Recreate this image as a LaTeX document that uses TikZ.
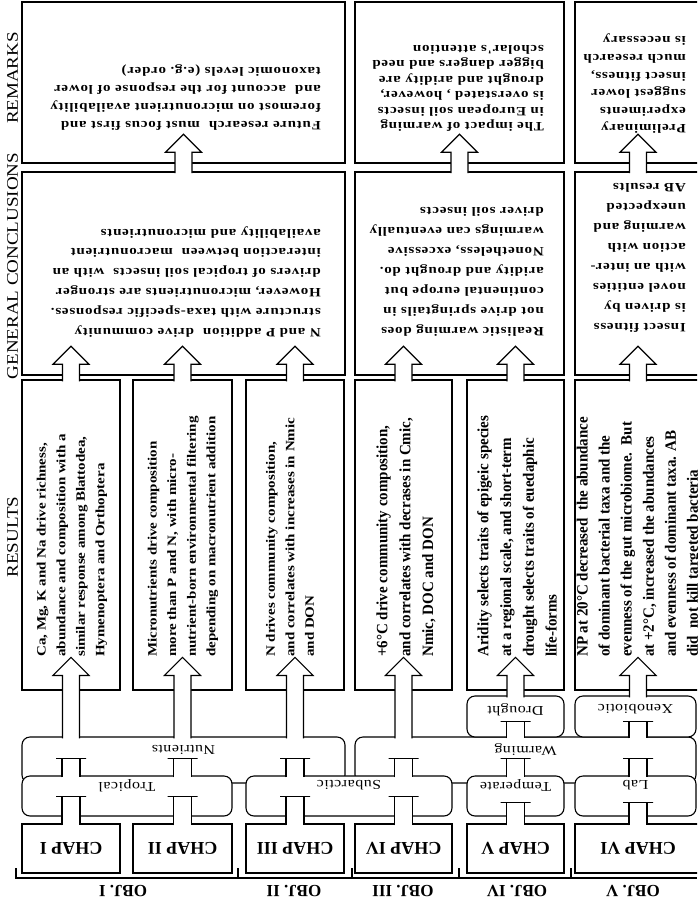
\documentclass[tikz,border=0pt]{standalone}
\usepackage{fontspec}
\setmainfont{Liberation Serif}
\newfontfamily\spacedfont[LetterSpace=5]{Liberation Serif}
\newfontfamily\boxfont[LetterSpace=3]{Liberation Serif}

\tikzset{
  dbox/.style={draw, line width=1.5pt, fill=white, inner sep=0pt},
  rbox/.style={draw, rounded corners=8pt, line width=1.1pt, fill=white, inner sep=0pt},
  pipe/.style={draw, fill=white, line width=1.1pt,
    to path={([xshift=-9pt,yshift=-2pt]\tikztostart) -- ([xshift=-9pt]\tikztotarget)
      -- ([xshift=-15pt]\tikztotarget) -- ([xshift=15pt]\tikztotarget)
      -- ([xshift=9pt]\tikztotarget) -- ([xshift=9pt,yshift=-2pt]\tikztostart)}},
  blockarrow/.style={draw, fill=white, line width=1.1pt,
    to path={([xshift=-8.5pt,yshift=-2pt]\tikztostart) -- ([xshift=-8.5pt,yshift=-18pt]\tikztotarget)
      -- ([xshift=-18pt,yshift=-18pt]\tikztotarget) -- (\tikztotarget)
      -- ([xshift=18pt,yshift=-18pt]\tikztotarget) -- ([xshift=8.5pt,yshift=-18pt]\tikztotarget)
      -- ([xshift=8.5pt,yshift=-2pt]\tikztostart)}},
  restext/.style={rotate=90, yscale=#1, anchor=west, inner sep=0pt, align=left,
    font=\bfseries\fontsize{15}{23}\selectfont},
  restext/.default=.85,
  udtext/.style={rotate=180, yscale=.85, anchor=west, inner sep=0pt, align=left,
    font=\spacedfont\bfseries\fontsize{15}{#1}\selectfont},
  udtext/.default=23.5,
  sidelbl/.style={rotate=90, yscale=.85, inner sep=0pt, font=\fontsize{19}{23}\selectfont},
  boxlbl/.style={rotate=180, yscale=.85, inner sep=0pt, font=\boxfont\fontsize{16}{18}\selectfont},
  chaplbl/.style={rotate=180, inner sep=0pt, font=\bfseries\fontsize{18}{20}\selectfont},
  objlbl/.style={rotate=180, inner sep=0pt, font=\bfseries\fontsize{17}{20}\selectfont}
}

\begin{document}
\begin{tikzpicture}[x=1pt, y=-1pt]
\useasboundingbox (0,0) rectangle (697,904);
\clip (0,0) rectangle (697,904);

% nutrients and warming sit behind the sites
\node[rbox, minimum width=323pt, minimum height=46pt] (nutr) at (183.5,760) {};
\node[rbox, minimum width=341pt, minimum height=46pt] (warm) at (525.5,760) {};

\node[rbox, minimum width=210pt, minimum height=40pt] (trop) at (127,796) {};
\node[rbox, minimum width=206pt, minimum height=40pt] (suba) at (349,796) {};
\node[rbox, minimum width=97pt, minimum height=40pt] (temp) at (515.5,796) {};
\node[rbox, minimum width=121pt, minimum height=40pt] (lab) at (635.5,796) {};
\node[rbox, minimum width=97pt, minimum height=41pt] (drou) at (515.5,716.5) {};
\node[rbox, minimum width=121pt, minimum height=41pt] (xeno) at (635.5,716.5) {};

% chapters
\node[dbox, minimum width=98pt, minimum height=49pt] (chap1) at (71,848.5) {};
\node[dbox, minimum width=99pt, minimum height=49pt] (chap2) at (182.5,848.5) {};
\node[dbox, minimum width=98pt, minimum height=49pt] (chap3) at (295,848.5) {};
\node[dbox, minimum width=97pt, minimum height=49pt] (chap4) at (403.5,848.5) {};
\node[dbox, minimum width=97pt, minimum height=49pt] (chap5) at (515.5,848.5) {};
\node[dbox, minimum width=126pt, minimum height=49pt] (chap6) at (638,848.5) {};

% results
\node[dbox, minimum width=98pt, minimum height=310pt] (res1) at (71,535) {};
\node[dbox, minimum width=99pt, minimum height=310pt] (res2) at (182.5,535) {};
\node[dbox, minimum width=98pt, minimum height=310pt] (res3) at (295,535) {};
\node[dbox, minimum width=97pt, minimum height=310pt] (res4) at (403.5,535) {};
\node[dbox, minimum width=97pt, minimum height=310pt] (res5) at (515.5,535) {};
\node[dbox, minimum width=126pt, minimum height=310pt] (res6) at (638,535) {};

% general conclusions and remarks
\node[dbox, minimum width=323pt, minimum height=203pt] (gc1) at (183.5,273.5) {};
\node[dbox, minimum width=209pt, minimum height=203pt] (gc2) at (459.5,273.5) {};
\node[dbox, minimum width=126pt, minimum height=203pt] (gc3) at (638,273.5) {};
\node[dbox, minimum width=323pt, minimum height=161pt] (rem1) at (183.5,82.5) {};
\node[dbox, minimum width=209pt, minimum height=161pt] (rem2) at (459.5,82.5) {};
\node[dbox, minimum width=126pt, minimum height=161pt] (rem3) at (638,82.5) {};

% pipes between levels
\foreach \c in {chap1,chap2,chap3,chap4}
  \draw[pipe] (\c.north) to ++(0,-27);
\draw[pipe] (chap5.north) to ++(0,-21);
\draw[pipe] (chap6.north) to ++(0,-21);
\draw[pipe] (trop.north -| chap1.north) to ++(0,-17);
\draw[pipe] (trop.north -| chap2.north) to ++(0,-17);
\draw[pipe] (suba.north -| chap3.north) to ++(0,-17);
\draw[pipe] (suba.north -| chap4.north) to ++(0,-17);
\draw[pipe] (temp.north) to ++(0,-17);
\draw[pipe] (lab.north -| chap6.north) to ++(0,-17);
\draw[pipe] (warm.north -| drou.south) to ++(0,-15);
\draw[pipe] (warm.north -| chap6.north) to ++(0,-15);

% big arrows
\foreach \i in {1,2,3}
  \draw[blockarrow] (nutr.north -| res\i.south) to ++(0,-79);
\draw[blockarrow] (warm.north -| res4.south) to ++(0,-79);
\draw[blockarrow] (drou.north) to ++(0,-38);
\draw[blockarrow] (xeno.north -| res6.south) to ++(0,-38);
\foreach \i in {1,...,6}
  \draw[blockarrow] (res\i.north) to ++(0,-33);
\foreach \i in {1,2,3}
  \draw[blockarrow] (gc\i.north) to ++(0,-37);

% row titles
\node[sidelbl] (lblrem) at (12.5,78) {REMARKS};
\node[sidelbl] (lblgc) at (12.5,266) {GENERAL CONCLUSIONS};
\node[sidelbl] (lblres) at (12.5,537) {RESULTS};

% labels of the rounded boxes
\node[boxlbl] (tnutr) at ([yshift=-13pt]nutr.north) {Nutrients};
\node[boxlbl] (twarm) at ([yshift=-13pt]warm.north) {Warming};
\node[boxlbl] (ttrop) at ([yshift=-10pt]trop.north) {Tropical};
\node[boxlbl] (tsuba) at ([yshift=-10pt]suba.north) {Subarctic};
\node[boxlbl] (ttemp) at ([yshift=-10pt]temp.north) {Temperate};
\node[boxlbl] (tlab) at ([yshift=-10pt]lab.north) {Lab};
\node[boxlbl] (tdrou) at ([yshift=-14pt]drou.north) {Drought};
\node[boxlbl] (txeno) at ([yshift=-14pt]xeno.north) {Xenobiotic};

\node[chaplbl] (tchap1) at (chap1) {CHAP I};
\node[chaplbl] (tchap2) at (chap2) {CHAP II};
\node[chaplbl] (tchap3) at (chap3) {CHAP III};
\node[chaplbl] (tchap4) at (chap4) {CHAP IV};
\node[chaplbl] (tchap5) at (chap5) {CHAP V};
\node[chaplbl] (tchap6) at (chap6) {CHAP VI};

% results text
\node[restext] (tres1) at (72,657) {Ca, Mg, K and Na drive richness,\\abundance and composition with a\\similar response among Blattodea,\\Hymenoptera and Orthoptera};
\node[restext] (tres2) at (183,657) {Micronutrients drive composition\\more than P and N, with micro-\\nutrient-born environmental filtering\\depending on macronutrient addition};
\node[restext] (tres3) at (290,657) {N drives community composition,\\and correlates with increases in Nmic\\and DON};
\node[restext=1.05, font=\bfseries\fontsize{15}{21.7}\selectfont] (tres4) at (406,657) {+6°C drive community composition,\\and correlates with decrases in Cmic,\\Nmic, DOC and DON};
\node[restext=1.05, font=\bfseries\fontsize{15}{21.7}\selectfont] (tres5) at (517,657) {Aridity selects traits of epigeic species\\at a regional scale, and short-term\\drought selects traits of euedaphic\\life-forms};
\node[restext=1.05, font=\bfseries\fontsize{15}{21}\selectfont] (tres6) at (639,657) {NP at 20°C decreased\ \ the abundance\\of dominant bacterial taxa and the\\evenness of the gut microbiome.\ \ But\\at +2°C, increased the abundances\\and evenness of dominant taxa. AB\\did\ \ not kill targeted bacteria};

% conclusions text
\node[udtext] (tgc1) at (321,282) {N and P addition\ \ drive community\\structure with taxa-specific responses.\\However, micronutrients are stronger\\drivers of tropical soil insects\ \ with an\\interaction between\ \ macronutrient\\availability and micronutrients};
\node[udtext] (tgc2) at (544,272) {Realistic warming does\\not drive springtails in\\continental europe but\\aridity and drought do.\\Nonetheless, excessive\\warmings can eventually\\driver soil insects};
\node[udtext] (tgc3) at (686,258) {Insect fitness\\is driven by\\novel entities\\with an inter-\\action with\\warming and\\unexpected\\AB results};

% remarks text
\node[udtext=21.5] (trem1) at (321,97.5) {Future research\ \ must focus first and\\foremost on micronutrient availability\\and\ \ account for the response of lower\\taxonomic levels (e.g.\ order)};
\node[udtext=18.1] (trem2) at (544,88.5) {The impact of warming\\in European soil insects\\is overstated , however,\\drought and aridity are\\bigger dangers and need\\scholar's attention};
\node[udtext=20.7] (trem3) at (686,84) {Preliminary\\experiments\\suggest lower\\insect fitness,\\much research\\is necessary};

% objectives
\draw[line width=1.1pt] (16,868) -- (16,878) -- (697,878);
\foreach \x in {238,352,459,571}
  \draw[line width=1.1pt] (\x,868) -- (\x,878);
\node[objlbl] (obj1) at (123,891) {OBJ. I};
\node[objlbl] (obj2) at (294,891) {OBJ. II};
\node[objlbl] (obj3) at (403,891) {OBJ. III};
\node[objlbl] (obj4) at (517,891) {OBJ. IV};
\node[objlbl] (obj5) at (633,891) {OBJ. V};
\end{tikzpicture}
\end{document}
